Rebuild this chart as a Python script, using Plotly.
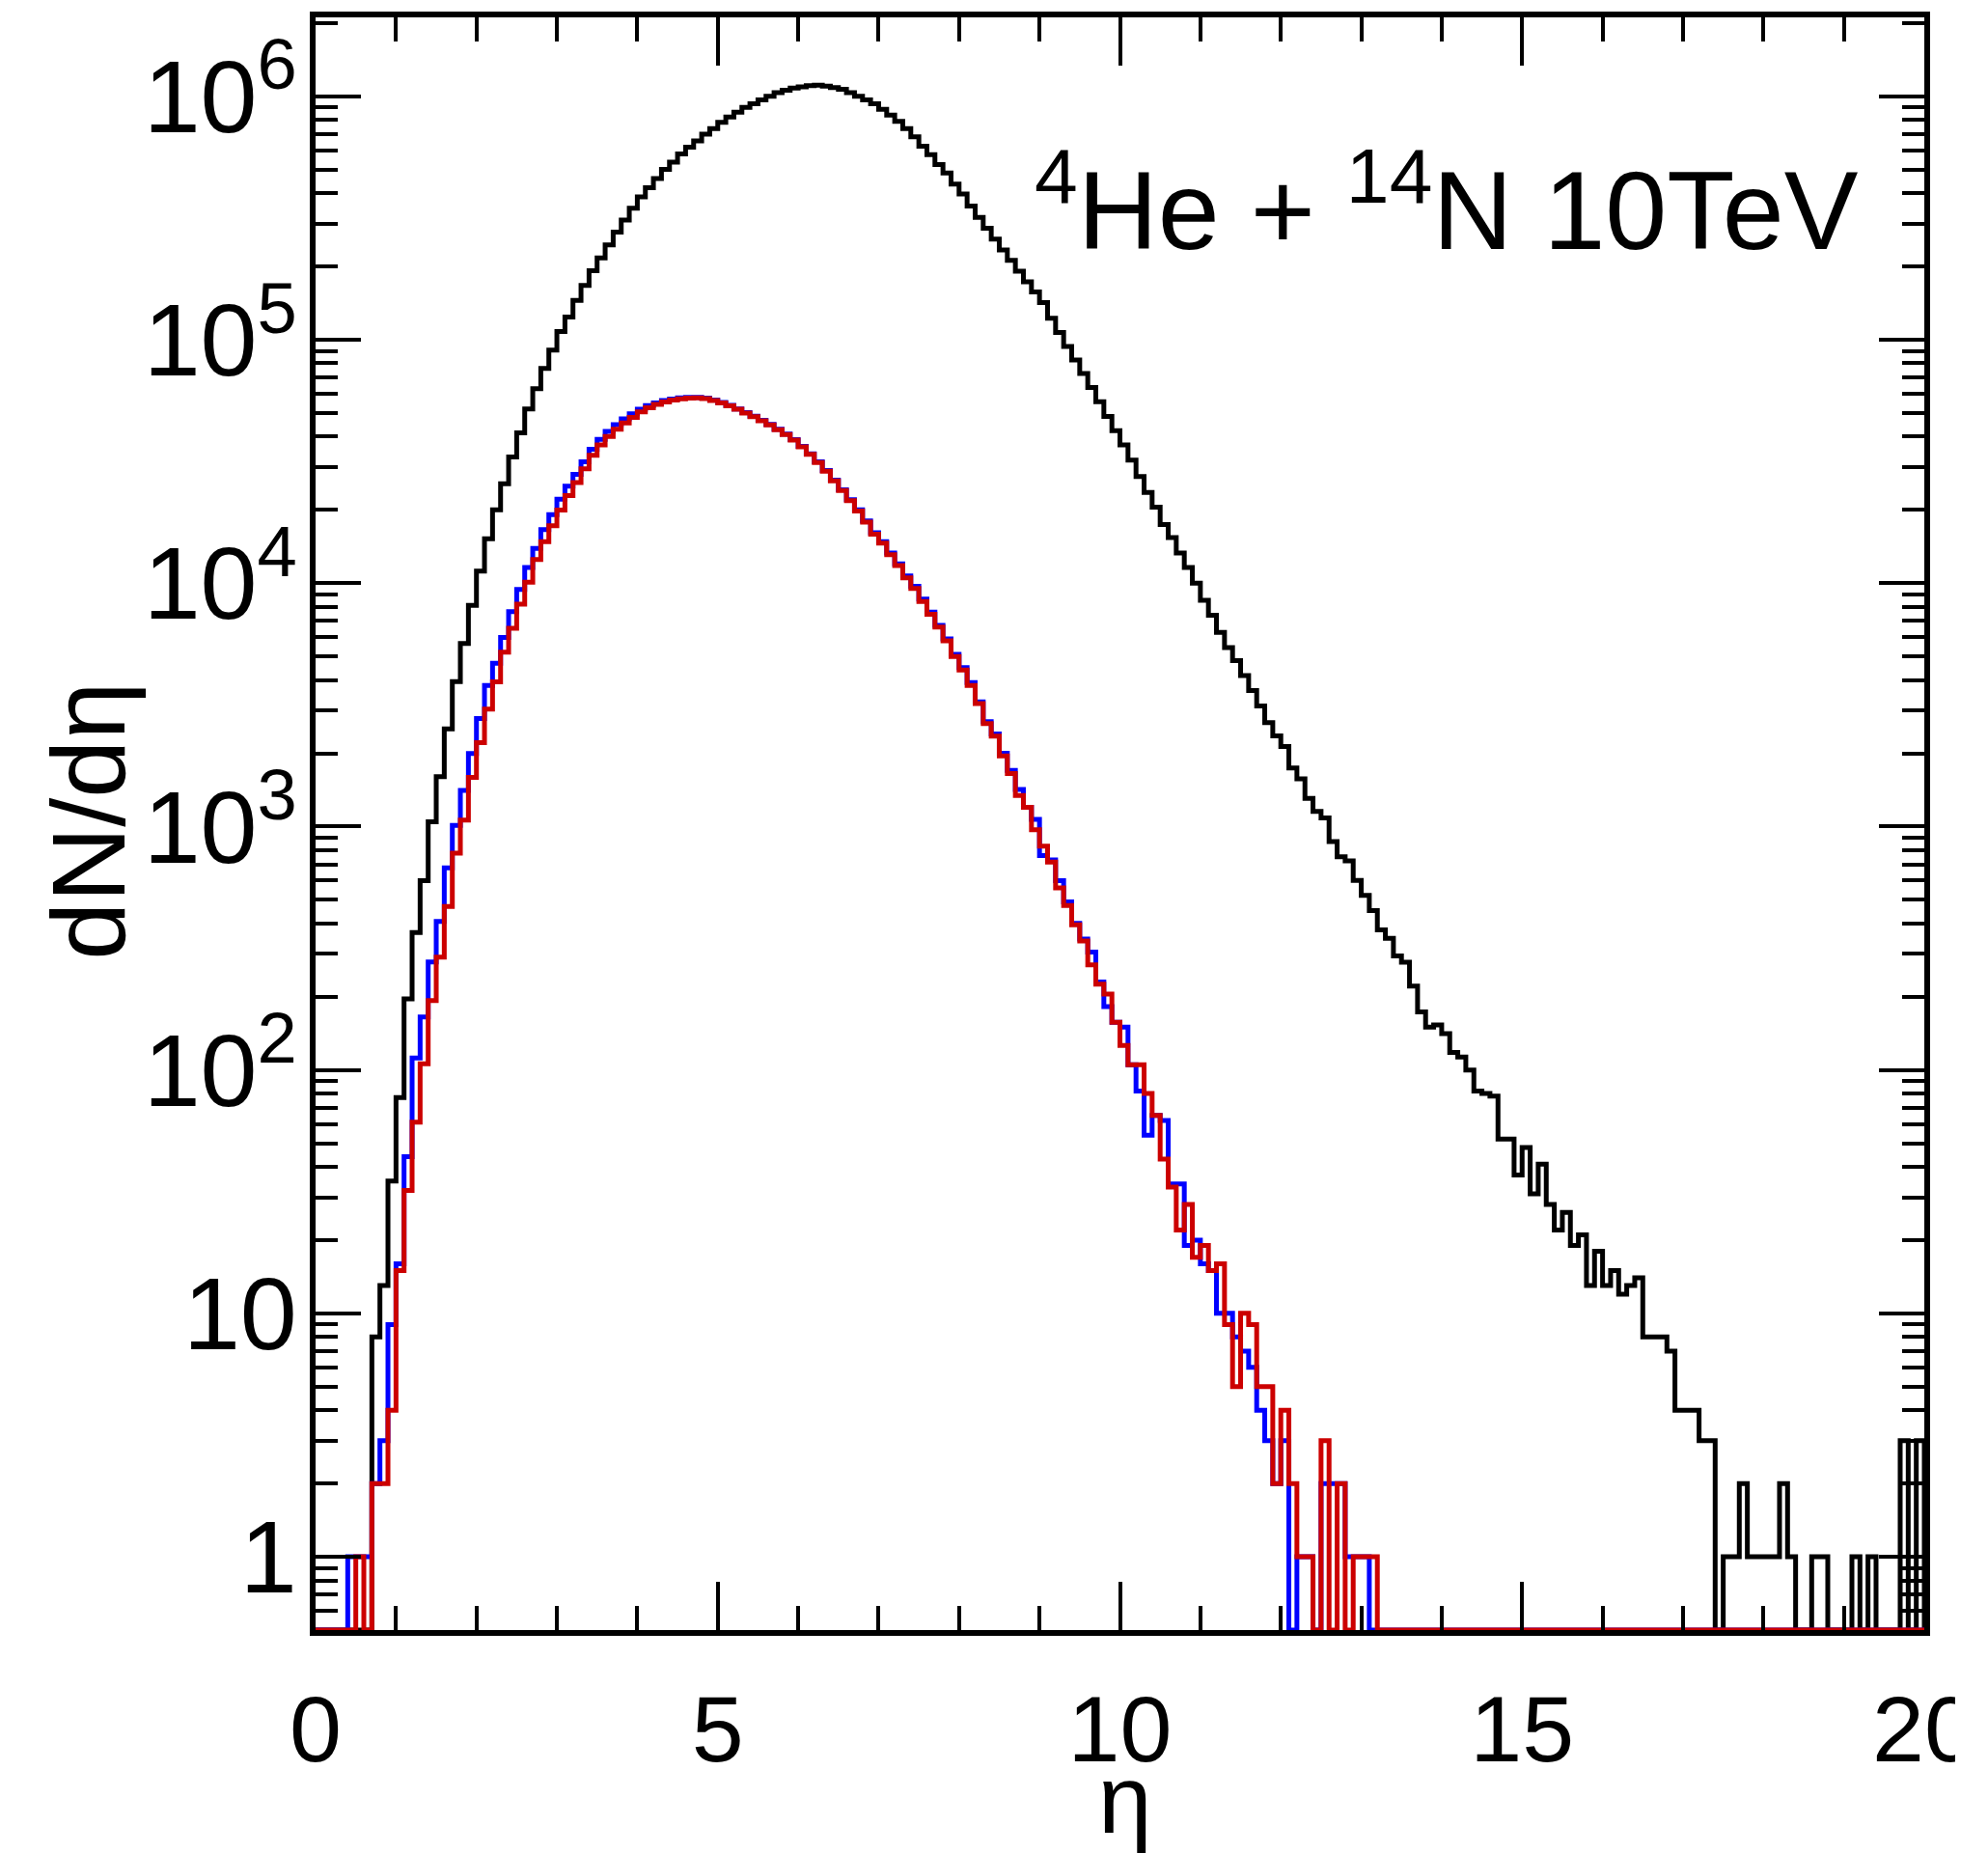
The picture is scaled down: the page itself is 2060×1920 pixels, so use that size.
import numpy as np
import plotly.graph_objects as go

# ---------------- data (dN/deta per 0.1-wide eta bin, 0 .. 20) ----------------
eta_min = 0.0
eta_max = 20.0
n_bins = 200

black_counts = [
    0, 0, 0, 0, 0, 0, 0, 8, 13, 35,
    77, 196, 367, 599, 1047, 1603, 2521, 3940, 5650, 8110,
    11200, 15200, 20000, 25600, 33000, 41400, 51900, 62900, 76200, 90700,
    108000, 124000, 145000, 167000, 192000, 217000, 245000, 277000, 310000, 347000,
    386000, 421000, 459000, 501000, 537000, 580000, 618000, 656000, 699000, 736000,
    781000, 822000, 861000, 901000, 933000, 966000, 1000000, 1035000, 1060000, 1080000,
    1094000, 1107000, 1110000, 1100000, 1087000, 1070000, 1035000, 1000000, 966000, 933000,
    885000, 837000, 789000, 736000, 681000, 624000, 576000, 524000, 484000, 436000,
    397000, 354000, 318000, 287000, 259000, 234000, 212000, 191000, 173000, 157000,
    142000, 122500, 107000, 93800, 82600, 72600, 63700, 55600, 48400, 42300,
    37000, 32000, 27400, 23600, 20500, 17400, 15400, 13300, 11600, 10000,
    8510, 7380, 6270, 5430, 4810, 4170, 3620, 3130, 2670, 2360,
    2130, 1740, 1570, 1305, 1155, 1086, 868, 752, 722, 601,
    521, 452, 376, 347, 294, 277, 221, 173, 150, 153,
    141, 118, 113, 100, 82, 80, 78, 52, 52, 37,
    48, 31, 41, 28, 22, 26, 19, 21, 13, 18,
    13, 15, 12, 13, 14, 8, 8, 8, 7, 4,
    4, 4, 3, 3, 0, 1, 1, 2, 1, 1,
    1, 1, 2, 1, 0, 0, 1, 1, 0, 0,
    0, 1, 0, 1, 0, 0, 0, 3, 0, 3,
]

blue_counts = [
    0, 0, 0, 0, 1, 1, 1, 2, 3, 9,
    16, 44, 112, 165, 278, 408, 676, 1010, 1406, 1995,
    2780, 3800, 4690, 5980, 7640, 9420, 11600, 13900, 16600, 19100,
    22100, 25000, 28000, 31500, 35500, 39000, 42000, 44800, 47300, 49600,
    51800, 53600, 55000, 56200, 57000, 57700, 58000, 57900, 57500, 56500,
    55200, 53700, 52000, 50200, 48500, 46700, 44900, 42900, 41000, 38900,
    36500, 34000, 31500, 29000, 26500, 24200, 22000, 20000, 18000, 16100,
    14800, 13300, 12000, 10700, 9700, 8600, 7600, 6700, 5900, 5100,
    4500, 3900, 3250, 2700, 2400, 2000, 1700, 1420, 1200, 1070,
    760, 730, 600, 490, 400, 345, 305, 230, 182, 157,
    150, 105, 82, 54, 65, 62, 34, 34, 19, 20,
    16, 15, 10, 10, 8, 7, 6, 4, 3, 2,
    3, 0, 1, 1, 0, 2, 2, 2, 1, 1,
    1, 0, 0, 0, 0, 0, 0, 0, 0, 0,
    0, 0, 0, 0, 0, 0, 0, 0, 0, 0,
    0, 0, 0, 0, 0, 0, 0, 0, 0, 0,
    0, 0, 0, 0, 0, 0, 0, 0, 0, 0,
    0, 0, 0, 0, 0, 0, 0, 0, 0, 0,
    0, 0, 0, 0, 0, 0, 0, 0, 0, 0,
    0, 0, 0, 0, 0, 0, 0, 0, 0, 0,
]

red_counts = [
    0, 0, 0, 0, 0, 1, 0, 2, 2, 4,
    15, 32, 61, 106, 193, 291, 469, 778, 1064, 1592,
    2213, 3034, 3935, 5210, 6530, 8200, 10100, 12500, 14800, 17200,
    19950, 22900, 25900, 29500, 33500, 37000, 40000, 42900, 45500, 48000,
    50500, 52500, 54200, 55500, 56500, 57200, 57600, 57700, 57300, 56300,
    55000, 53500, 51800, 50000, 48300, 46500, 44700, 42700, 40800, 38700,
    36300, 33800, 31300, 28800, 26300, 24000, 21800, 19800, 17800, 15900,
    14600, 13100, 11800, 10500, 9500, 8400, 7450, 6600, 5800, 5000,
    4400, 3800, 3200, 2650, 2350, 1950, 1650, 1340, 1200, 970,
    830, 714, 560, 474, 395, 339, 270, 225, 205, 157,
    126, 105, 105, 80, 65, 43, 33, 22, 28, 17,
    19, 15, 16, 9, 5, 10, 9, 5, 5, 2,
    4, 2, 1, 1, 0, 3, 0, 2, 0, 1,
    1, 1, 0, 0, 0, 0, 0, 0, 0, 0,
    0, 0, 0, 0, 0, 0, 0, 0, 0, 0,
    0, 0, 0, 0, 0, 0, 0, 0, 0, 0,
    0, 0, 0, 0, 0, 0, 0, 0, 0, 0,
    0, 0, 0, 0, 0, 0, 0, 0, 0, 0,
    0, 0, 0, 0, 0, 0, 0, 0, 0, 0,
    0, 0, 0, 0, 0, 0, 0, 0, 0, 0,
]

x_tick_values = [0, 5, 10, 15, 20]
x_tick_labels = ["0", "5", "10", "15", "20"]
y_tick_values = [1, 10, 100, 1e3, 1e4, 1e5, 1e6]
# the zero-width superscript on "1" and "10" keeps every label built the same way
y_tick_labels = ["1<sup>\u200b</sup>", "10<sup>\u200b</sup>", "10<sup>2</sup>",
                 "10<sup>3</sup>", "10<sup>4</sup>", "10<sup>5</sup>", "10<sup>6</sup>"]
y_range_min = 0.5
y_range_max = 2.11e6

title_text = "<sup>4</sup>He + <sup>14</sup>N 10TeV"
x_title = "η"
y_title = "dN/dη"

# ---------------- helpers ----------------
edges = np.linspace(eta_min, eta_max, n_bins + 1)


def hist_outline(counts):
    """ROOT-style histogram outline; empty bins sit on the frame bottom."""
    vals = np.array(counts, dtype=float)
    vals[vals <= 0] = y_range_min
    xs = np.concatenate([[edges[0]], edges[:-1], [edges[-1]], [edges[-1]]])
    ys = np.concatenate([[y_range_min], vals, [vals[-1]], [y_range_min]])
    return xs, ys


FONT = "Liberation Sans, Arial, Helvetica, sans-serif"
LW = 5

fig = go.Figure()
for counts, color in [(black_counts, "#000000"),
                      (blue_counts, "#0000ff"),
                      (red_counts, "#cc0000")]:
    xs, ys = hist_outline(counts)
    fig.add_trace(go.Scatter(x=xs, y=ys, mode="lines",
                             line=dict(color=color, width=LW, shape="hv"),
                             hoverinfo="skip"))

# minor tick positions for the log axis
minor_y = []
for dec in range(-1, 7):
    for m in range(2, 10):
        v = m * 10.0 ** dec
        if y_range_min < v < y_range_max:
            minor_y.append(v)

fig.update_xaxes(
    range=[eta_min, eta_max], showline=True, linewidth=6, linecolor="black",
    mirror="ticks", ticks="inside", ticklen=50, tickwidth=4, tickcolor="black",
    tickmode="array", tickvals=x_tick_values, ticktext=x_tick_labels,
    tickfont=dict(family=FONT, size=97, color="black"),
    ticklabelstandoff=14,
    minor=dict(ticks="inside", ticklen=25, tickwidth=4, tickcolor="black",
               dtick=1, tick0=0, showgrid=False),
    showgrid=False, zeroline=False,
)
fig.update_yaxes(
    type="log", range=[np.log10(y_range_min), np.log10(y_range_max)],
    showline=True, linewidth=6, linecolor="black",
    mirror="ticks", ticks="inside", ticklen=47, tickwidth=4, tickcolor="black",
    tickmode="array", tickvals=y_tick_values, ticktext=y_tick_labels,
    tickfont=dict(family=FONT, size=106, color="black"),
    ticklabelstandoff=-8,
    minor=dict(ticks="inside", ticklen=23, tickwidth=4, tickcolor="black",
               tickmode="array", tickvals=minor_y, showgrid=False),
    showgrid=False, zeroline=False,
)

L, R, T, B = 327, 61, 18, 231
W, H = 2060, 1920
pw, ph = W - L - R, H - T - B


def px_to_paper(xpx, ypx):
    return (xpx - L) / pw, (H - B - ypx) / ph


ax_, ay_ = px_to_paper(1933, 284)
tx, ty = px_to_paper(1169, 1864)
yx, yy = px_to_paper(90, 851)

fig.update_layout(
    width=W, height=H,
    margin=dict(l=L, r=R, t=T, b=B),
    paper_bgcolor="white", plot_bgcolor="white",
    showlegend=False,
    font=dict(family=FONT, color="black"),
    annotations=[
        dict(text=title_text, x=ax_, y=ay_, xref="paper", yref="paper",
             xanchor="right", yanchor="bottom", showarrow=False,
             font=dict(family=FONT, size=115, color="black")),
        dict(text=x_title, x=tx, y=ty, xref="paper", yref="paper",
             xanchor="center", yanchor="middle", showarrow=False,
             font=dict(family=FONT, size=100, color="black")),
        dict(text=y_title, x=yx, y=yy, xref="paper", yref="paper",
             xanchor="center", yanchor="middle", showarrow=False, textangle=-90,
             font=dict(family=FONT, size=108, color="black")),
    ],
    shapes=[
        # canvas edge in the original clips the last x label
        dict(type="rect", xref="paper", yref="paper",
             x0=(2031 - L) / pw, x1=(2100 - L) / pw, y0=-0.3, y1=1.05,
             fillcolor="white", line=dict(width=0), layer="above"),
    ],
)

fig.write_html("out.html")
